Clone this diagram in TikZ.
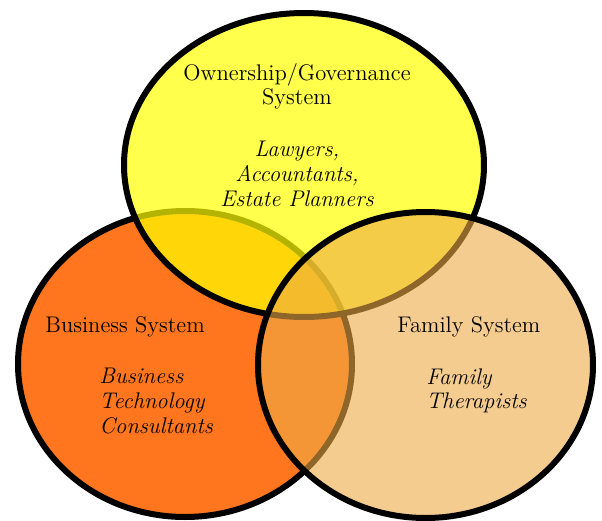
\documentclass[tikz,border=0pt]{standalone}
\usetikzlibrary{shapes.geometric}
\definecolor{busorange}{RGB}{255,118,30}
\definecolor{govyellow}{RGB}{255,255,0}
\definecolor{famtan}{RGB}{238,170,70}
\tikzset{
  system/.style={ellipse, draw=black, line width=3pt, inner sep=0pt,
    minimum width=167pt, minimum height=153pt},
  label/.style={inner sep=0pt, font=\fontsize{11.3}{12.3}\selectfont},
  experts/.style={label, font=\fontsize{11.3}{12.3}\selectfont\itshape}
}
\begin{document}
\begin{tikzpicture}[x=0.5pt,y=-0.5pt]
        \useasboundingbox (0,0) rectangle (602,521);
        \node [system, fill=busorange] (bus) at (185,364) {};
        \node [system, fill=govyellow, fill opacity=0.7, minimum width=180pt, minimum height=152pt] (own) at (304,165) {};
        \node [system, fill=famtan, fill opacity=0.6, minimum width=167.5pt] (fam) at (425.5,365) {};
        \node [label, align=center, anchor=north] (ownt) at (297,63) {Ownership/Governance\\System};
        \node [experts, align=center, anchor=north] (ownx) at (297,141) {Lawyers,\\Accountants,\\Estate Planners};
        \node [label, anchor=base west] (bust) at (45,332) {Business System};
        \node [experts, align=left, anchor=north west] (busx) at (99,368) {Business\\Technology\\Consultants};
        \node [label, anchor=base west] (famt) at (397,332) {Family System};
        \node [experts, align=left, anchor=north west] (famx) at (426,368) {Family\\Therapists};
\end{tikzpicture}
\end{document}
